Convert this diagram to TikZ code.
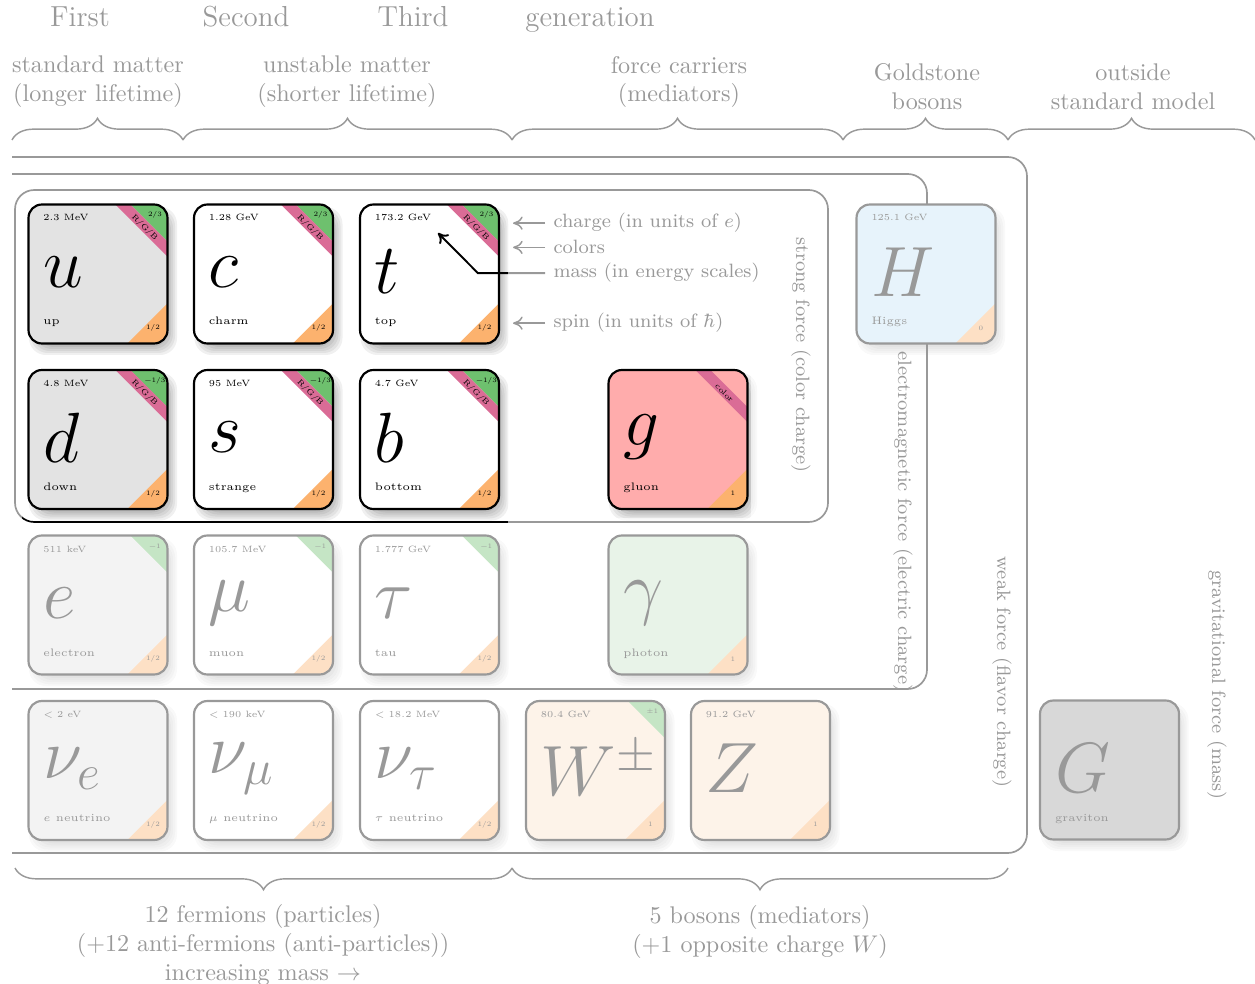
\RequirePackage{fix-cm}
\documentclass[tikz,border=0pt]{standalone}
\usepackage{fontspec}
\usepackage{etoolbox}
\usetikzlibrary{decorations.pathreplacing,arrows.meta}

% card fills
\definecolor{upgray}{gray}{0.89}
\definecolor{gluonred}{RGB}{255,172,172}
\definecolor{photongreen}{RGB}{198,226,198}
\definecolor{bosonorange}{RGB}{250,225,202}
\definecolor{higgsblue}{RGB}{197,227,245}
\definecolor{gravgray}{gray}{0.62}
% corner marks
\definecolor{chargegreen}{RGB}{110,192,110}
\definecolor{colourpink}{RGB}{218,108,150}
\definecolor{spinorange}{RGB}{252,178,110}

\tikzset{
  card/.style={rectangle, rounded corners=5.5pt, minimum width=2.0107cm,
    minimum height=2.0107cm, inner sep=0pt},
  cardedge/.style={draw=black, line width=0.9pt, rounded corners=5.5pt},
  shadowlayer/.style={fill=black, opacity=0.06, rounded corners=7pt},
  masstxt/.style={anchor=base west, inner sep=0pt, font=\fontsize{3.8}{4.5}\selectfont},
  nametxt/.style={anchor=base west, inner sep=0pt, font=\fontsize{4.5}{5}\selectfont},
  symtxt/.style={anchor=west, inner sep=0pt, font=\fontsize{29.5}{32}\selectfont},
  cornertxt/.style={inner sep=0pt, font=\fontsize{2.8}{3.2}\selectfont},
  bandtxt/.style={inner sep=0pt, rotate=-45, font=\fontsize{3.2}{4}\selectfont},
  boxline/.style={draw=black, line width=0.7pt, rounded corners=8pt},
  sidelabel/.style={rotate=-90, font=\footnotesize},
  toplabel/.style={align=center, font=\normalsize},
  genlabel/.style={anchor=base, font=\fontsize{12}{14}\selectfont\addfontfeatures{LetterSpace=6}},
  groupbrace/.style={draw=black, line width=0.6pt, decorate,
    decoration={brace, amplitude=9pt}},
  annot/.style={anchor=base west, font=\footnotesize},
  annotarrow/.style={draw=black, line width=0.6pt, -{To[length=4pt,width=5.5pt]}},
  massarrow/.style={draw=black, line width=0.8pt, -{To[length=4pt,width=5.5pt]}},
  veil/.style={fill=white, opacity=0.6, even odd rule},
}

% #1 name, #2 centre, #3 fill, #4 symbol, #5 mass, #6 label,
% #7 charge, #8 colours, #9 spin
\newcommand\particle[9]{%
  \begin{scope}[shift={(#2)}]
    \foreach \s in {0,2,4,6,8,10}
      \fill[shadowlayer] ({\s-69},{\s-67}) rectangle ({79-\s},{81-\s});
    \node[card, fill=#3] (#1) at (0,0) {};
    \begin{scope}
      \clip[rounded corners=5.5pt] (#1.south west) rectangle (#1.north east);
      \ifblank{#7}{}{\fill[chargegreen] (#1.north east) -- ++(-37,0) -- ++(37,37) -- cycle;}
      \ifblank{#8}{}{\fill[colourpink] (#1.north east) ++(-37,0) -- ++(-15,0)
        -- ++(52,52) -- ++(0,-15) -- cycle;}
      \ifblank{#9}{}{\fill[spinorange] (#1.south east) -- ++(-40,0) -- ++(40,-40) -- cycle;}
    \end{scope}
    \draw[cardedge] (#1.south west) rectangle (#1.north east);
    \ifblank{#5}{}{\node[masstxt] (#1-mass) at (-55,-53) {#5};}
    \node[symtxt] (#1-sym) at (-55,-2) {#4};
    \ifblank{#6}{}{\node[nametxt] (#1-name) at (-55,51) {#6};}
    \ifblank{#7}{}{\node[cornertxt] (#1-charge) at (57,-59) {#7};}
    \ifblank{#8}{}{\node[bandtxt] (#1-colour) at (46.5,-46.5) {#8};}
    \ifblank{#9}{}{\node[cornertxt] (#1-spin) at (55,54) {#9};}
  \end{scope}}

\begin{document}
\begin{tikzpicture}[x=0.01457cm, y=-0.01457cm]
\useasboundingbox (0,0) rectangle (1255,984);

% generation headings
\node[genlabel] (gen1) at (80,27) {First};
\node[genlabel] (gen2) at (246,27) {Second};
\node[genlabel] (gen3) at (413,27) {Third};
\node[genlabel] (gen4) at (590,27) {generation};

% group headings and braces
\node[toplabel] (stdlabel) at (98,82) {standard matter\\(longer lifetime)};
\node[toplabel] (unstlabel) at (347,82) {unstable matter\\(shorter lifetime)};
\node[toplabel] (forcelabel) at (679,82) {force carriers\\(mediators)};
\node[toplabel] (goldlabel) at (927,87) {Goldstone\\bosons};
\node[toplabel] (outlabel) at (1133,87) {outside\\standard model};
\draw[groupbrace] (12,140) -- (183,140);
\draw[groupbrace] (183,140) -- (512,140);
\draw[groupbrace] (512,140) -- (843,140);
\draw[groupbrace] (843,140) -- (1008,140);
\draw[groupbrace] (1008,140) -- (1255,140);

% interaction boxes
\draw[boxline] (12,157) -- (1027,157) -- (1027,853) -- (12,853);
\draw[boxline] (12,174) -- (927,174) -- (927,689) -- (12,689);
\draw[boxline] (15,190) rectangle (828,522);
\node[sidelabel] (stronglabel) at (801,355) {strong force (color charge)};
\node[sidelabel] (emlabel) at (903,522) {electromagnetic force (electric charge)};
\node[sidelabel] (weaklabel) at (1002,672) {weak force (flavor charge)};
\node[sidelabel] (gravlabel) at (1217,685) {gravitational force (mass)};

% quarks
\particle{u}{98,274}{upgray}{$u$}{2.3 MeV}{up}{2/3}{R/G/B}{1/2}
\particle{c}{263.5,274}{white}{$c$}{1.28 GeV}{charm}{2/3}{R/G/B}{1/2}
\particle{t}{429.5,274}{white}{$t$}{173.2 GeV}{top}{2/3}{R/G/B}{1/2}
\particle{d}{98,439.5}{upgray}{$d$}{4.8 MeV}{down}{−1/3}{R/G/B}{1/2}
\particle{s}{263.5,439.5}{white}{$s$}{95 MeV}{strange}{−1/3}{R/G/B}{1/2}
\particle{b}{429.5,439.5}{white}{$b$}{4.7 GeV}{bottom}{−1/3}{R/G/B}{1/2}
% leptons
\particle{e}{98,605}{upgray}{$e$}{511 keV}{electron}{−1}{}{1/2}
\particle{mu}{263.5,605}{white}{$\mu$}{105.7 MeV}{muon}{−1}{}{1/2}
\particle{tau}{429.5,605}{white}{$\tau$}{1.777 GeV}{tau}{−1}{}{1/2}
\particle{nue}{98,770.5}{upgray}{$\nu_e$}{$<2$ eV}{$e$ neutrino}{}{}{1/2}
\particle{numu}{263.5,770.5}{white}{$\nu_\mu$}{$<190$ keV}{$\mu$ neutrino}{}{}{1/2}
\particle{nutau}{429.5,770.5}{white}{$\nu_\tau$}{$<18.2$ MeV}{$\tau$ neutrino}{}{}{1/2}
% bosons
\particle{g}{678,439.5}{gluonred}{$g$}{}{gluon}{}{color}{1}
\particle{gamma}{678,605}{photongreen}{$\gamma$}{}{photon}{}{}{1}
\particle{W}{595.5,770.5}{bosonorange}{$W^{\pm}$}{80.4 GeV}{}{±1}{}{1}
\particle{Z}{760.5,770.5}{bosonorange}{$Z$}{91.2 GeV}{}{}{}{1}
\particle{H}{926,274}{higgsblue}{$H$}{125.1 GeV}{Higgs}{}{}{0}
\particle{G}{1109.5,770}{gravgray}{$G$}{}{graviton}{}{}{}

% legend for the corner marks
\node[annot] (lcharge) at (545,228) {charge (in units of $e$)};
\node[annot] (lcolour) at (545,254) {colors};
\node[annot] (lmass) at (545,278) {mass (in energy scales)};
\node[annot] (lspin) at (545,328) {spin (in units of $\hbar$)};
\coordinate (atip) at (513,0);
\coordinate (mbend) at (478,0);
\coordinate (mtip) at (438,233);
\draw[annotarrow] (lcharge.west) -- (atip |- lcharge.west);
\draw[annotarrow] (lcolour.west) -- (atip |- lcolour.west);
\draw[annotarrow] (lspin.west) -- (atip |- lspin.west);
\draw[massarrow] (lmass.west) -- (mbend |- lmass.west) -- (mtip);

% totals
\draw[groupbrace] (512,868) -- (15,868);
\draw[groupbrace] (1008,868) -- (512,868);
\node[toplabel] (fermlabel) at (263,945) {12 fermions (particles)\\(+12 anti-fermions (anti-particles))\\increasing mass $\rightarrow$};
\node[toplabel] (boslabel) at (760,932) {5 bosons (mediators)\\(+1 opposite charge $W$)};

% white veil over everything except the quark block and the gluon
\fill[veil] (0,0) rectangle (1255,984) (22,198) rectangle (508,523) (604,366) rectangle (751,518);
\end{tikzpicture}
\end{document}
